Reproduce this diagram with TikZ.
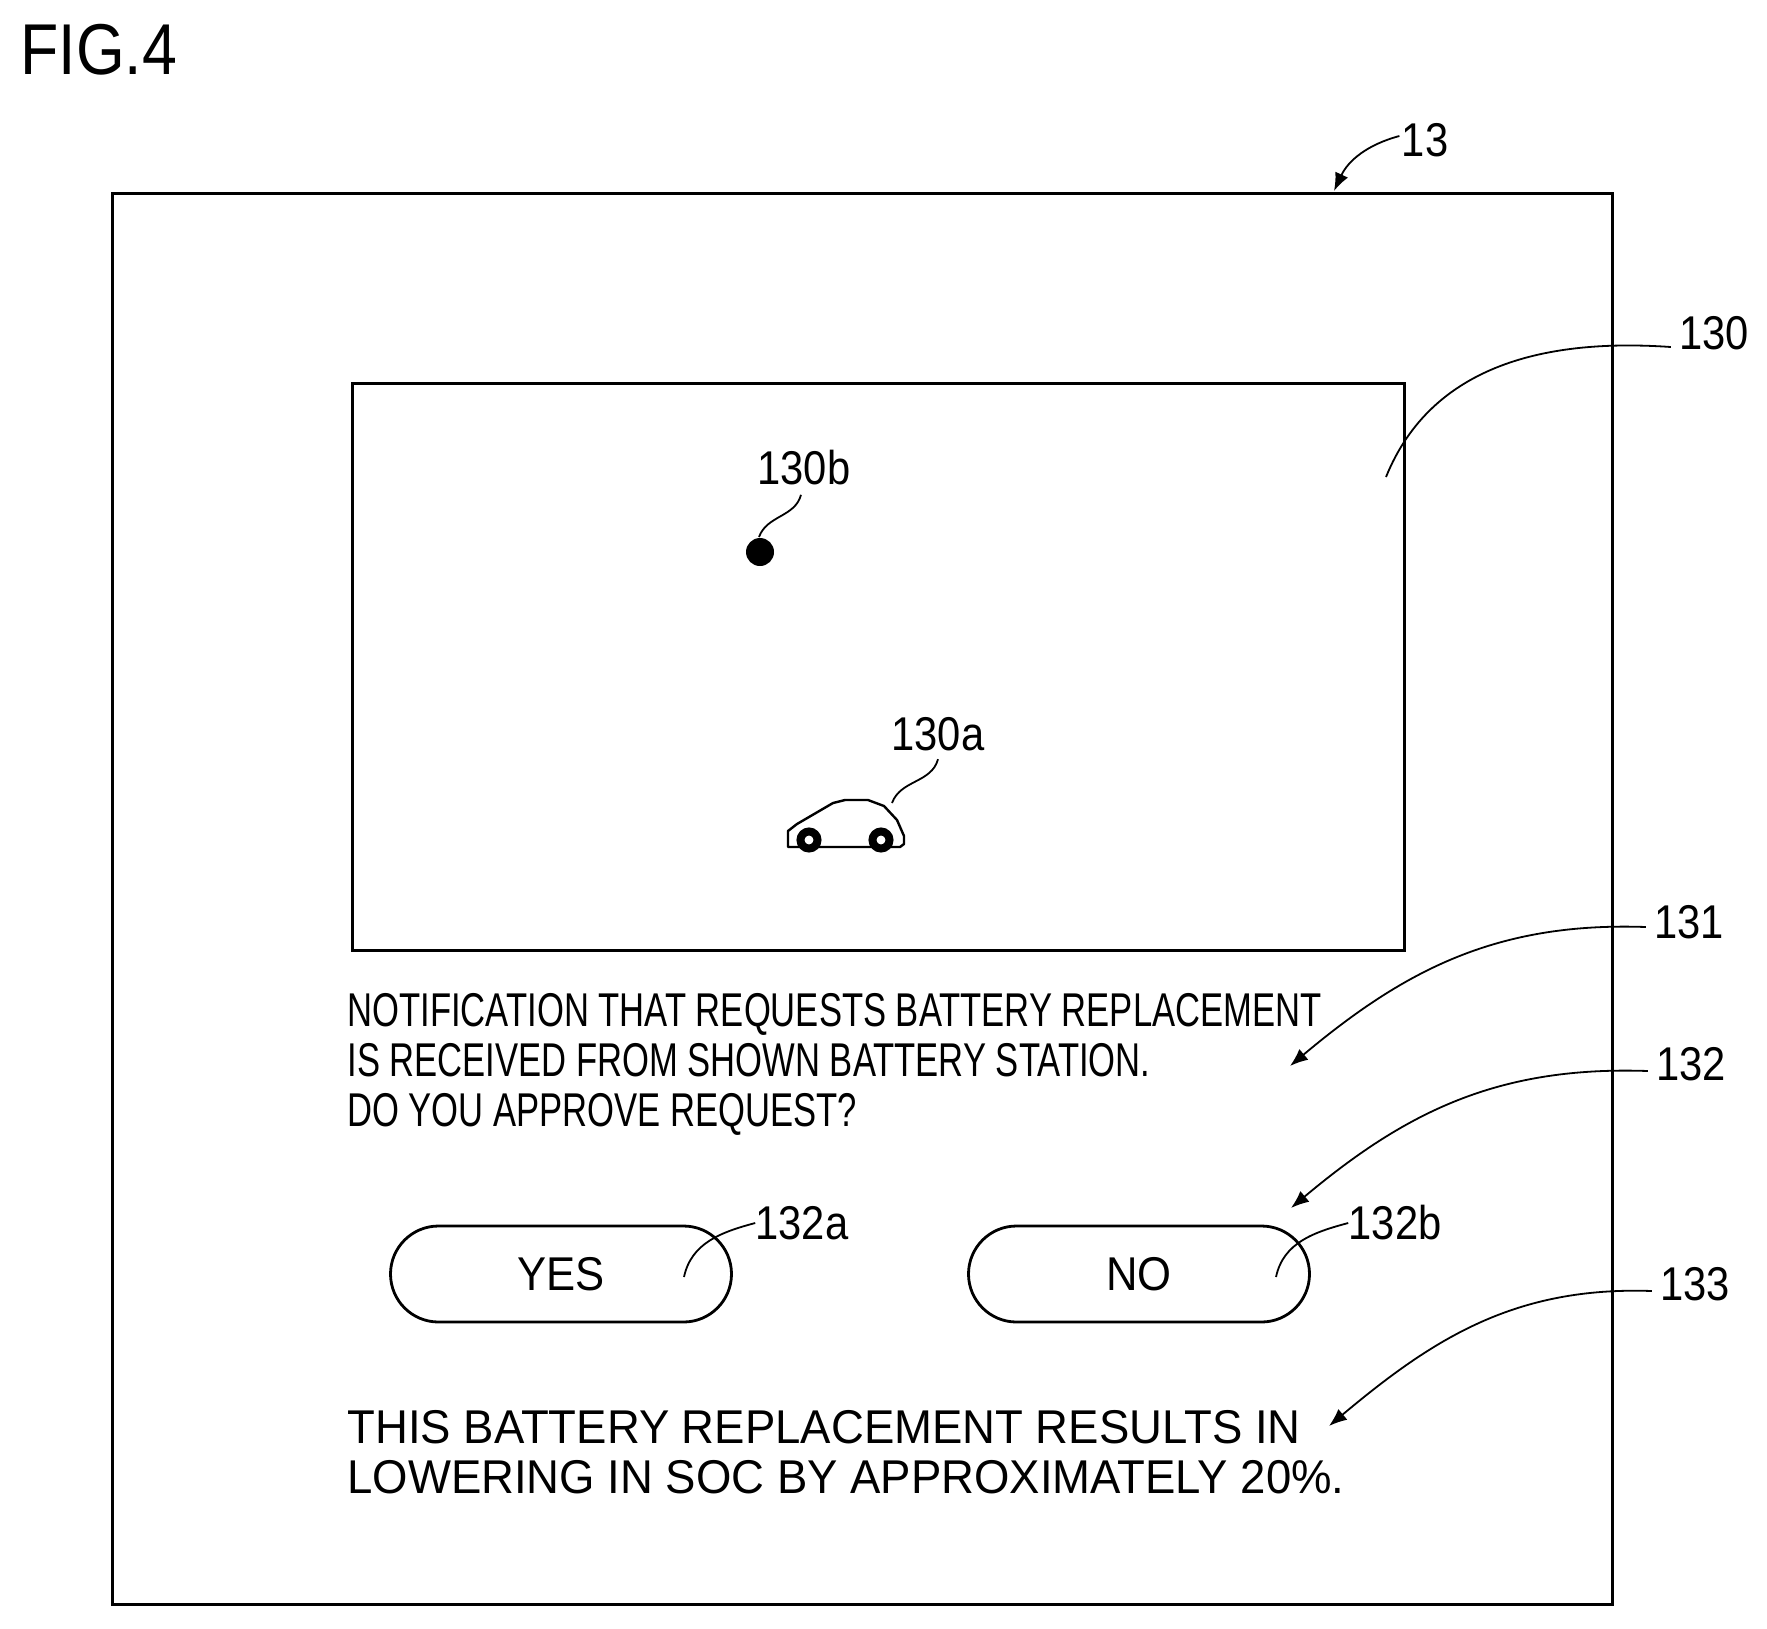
\documentclass[tikz,border=0pt]{standalone}
\usepackage{fontspec}
\setmainfont{Liberation Sans}
\newfontfamily\labelfont{Liberation Sans}[FakeStretch=0.88]
\newfontfamily\msgfont{Liberation Sans}[FakeStretch=0.73]
\newfontfamily\socfont{Liberation Sans}[FakeStretch=0.96]
\newfontfamily\btnfont{Liberation Sans}[FakeStretch=0.92]
\newfontfamily\figfont{Liberation Sans}[FakeStretch=0.87]
\usetikzlibrary{shapes.misc,arrows.meta}
\tikzset{
  refnum/.style={inner sep=0pt,font=\labelfont\fontsize{23.7}{25}\selectfont},
  screenbox/.style={rectangle,draw,line width=1.4pt},
  pill/.style={rounded rectangle,draw,line width=1.4pt,minimum width=170.5pt,minimum height=48pt,inner sep=0pt,font=\btnfont\fontsize{23.7}{25}\selectfont},
  msgtext/.style={inner sep=0pt,anchor=west,align=left},
  leader/.style={line width=0.9pt},
  pointer/.style={leader,-{Latex[length=9pt,width=7pt]}},
  wheel/.style={circle,draw,line width=4pt,fill=white,minimum size=8.5pt,inner sep=0pt}
}
\begin{document}
\begin{tikzpicture}[x=0.5pt,y=-0.5pt]
\useasboundingbox (0,0) rectangle (1767,1628);
\node[inner sep=0pt,anchor=west,font=\figfont\fontsize{36}{38}\selectfont] (fig) at (20,50) {FIG.4};
\node[screenbox,minimum width=750pt,minimum height=705.5pt,anchor=north west] (unit) at (111,192) {};
\node[screenbox,minimum width=526pt,minimum height=283.7pt,anchor=north west] (map) at (351,382) {};
\node[circle,fill=black,minimum size=14pt,inner sep=0pt] (station) at (760,552) {};
\draw[line width=1.2pt,line join=round] (788,847) -- (788,831) -- (797,824) -- (833,803) -- (845,800) -- (868,800) -- (884,806) -- (897,820) -- (904,836) -- (904,844) -- (900,847) -- cycle;
\node[wheel] (wheelr) at (809,840) {};
\node[wheel] (wheelf) at (881,840) {};
\node[msgtext,font=\msgfont\fontsize{23.7}{25}\selectfont] (msg) at (347,1064) {NOTIFICATION THAT REQUESTS BATTERY REPLACEMENT\\IS RECEIVED FROM SHOWN BATTERY STATION.\\DO YOU APPROVE REQUEST?};
\node[pill] (yes) at (561,1274) {YES};
\node[pill] (no) at (1139,1274) {NO};
\node[msgtext,font=\socfont\fontsize{23.7}{25}\selectfont] (soc) at (347,1452) {THIS BATTERY REPLACEMENT RESULTS IN\\LOWERING IN SOC BY APPROXIMATELY 20\%.};
\node[refnum] (l13) at (1425,140) {13};
\node[refnum] (l130) at (1714,333) {130};
\node[refnum] (l130a) at (938,734) {130a};
\node[refnum] (l130b) at (804,468) {130b};
\node[refnum] (l131) at (1689,922) {131};
\node[refnum] (l132) at (1691,1064) {132};
\node[refnum] (l132a) at (802,1223) {132a};
\node[refnum] (l132b) at (1395,1223) {132b};
\node[refnum] (l133) at (1695,1284) {133};
\coordinate (p13) at (1334,191);
\coordinate (p130) at (1386,477);
\coordinate (p130a) at (892,803);
\coordinate (p130b) at (759,537);
\coordinate (p131) at (1290,1066);
\coordinate (p132) at (1291,1208);
\coordinate (p132a) at (684,1277);
\coordinate (p132b) at (1276,1277);
\coordinate (p133) at (1329,1426);
\draw[pointer] (l13.west) ++(-2,-4) to[out=195,in=65] (p13);
\draw[leader] (l130.west) ++(-8,14) to[out=176,in=68] (p130);
\draw[leader] (l130a.south) ++(0,8) to[out=255,in=70] (p130a);
\draw[leader] (l130b.south) ++(-3,9) to[out=255,in=70] (p130b);
\draw[pointer] (l131.west) ++(-8,5) to[out=178,in=40] (p131);
\draw[pointer] (l132.west) ++(-8,7) to[out=178,in=40] (p132);
\draw[leader] (l132a.west) to[out=195,in=78] (p132a);
\draw[leader] (l132b.west) to[out=195,in=78] (p132b);
\draw[pointer] (l133.west) ++(-8,7) to[out=178,in=40] (p133);
\end{tikzpicture}
\end{document}
